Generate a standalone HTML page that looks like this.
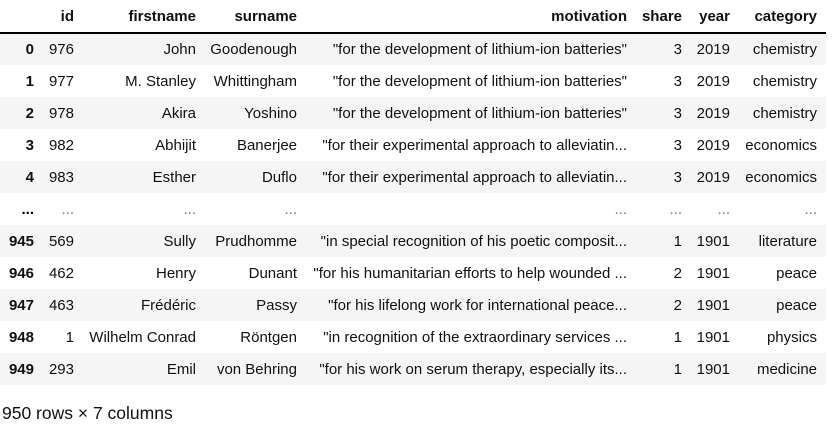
<!DOCTYPE html>
<html><head><meta charset="utf-8"><style>
html,body{margin:0;padding:0;width:837px;height:429px;overflow:hidden;background:#fff;font-family:"Liberation Sans",Arial,sans-serif;color:#111;}
table{position:absolute;left:0;top:0;border-collapse:collapse;font-size:15px;table-layout:fixed;width:826px}
th,td{padding:0 9px 0 0;height:32px;text-align:right;white-space:nowrap;overflow:hidden;box-sizing:border-box}
thead th{font-weight:bold;height:33px;border-bottom:2px solid #000;vertical-align:middle}
tbody th{font-weight:bold}
tbody tr:nth-child(odd){background:#f5f5f5}
.foot{position:absolute;left:2px;top:403px;font-size:17.5px;color:#111}
.dots td,.dots th{color:#777}
</style></head><body>
<table>
<colgroup><col style="width:43px"><col style="width:40px"><col style="width:122px"><col style="width:101px"><col style="width:330px"><col style="width:55px"><col style="width:48px"><col style="width:87px"></colgroup>
<thead><tr>
<th></th><th>id</th><th>firstname</th><th>surname</th><th>motivation</th><th>share</th><th>year</th><th>category</th></tr></thead>
<tbody>
<tr><th>0</th><td>976</td><td>John</td><td>Goodenough</td><td>"for the development of lithium-ion batteries"</td><td>3</td><td>2019</td><td>chemistry</td></tr>
<tr><th>1</th><td>977</td><td>M. Stanley</td><td>Whittingham</td><td>"for the development of lithium-ion batteries"</td><td>3</td><td>2019</td><td>chemistry</td></tr>
<tr><th>2</th><td>978</td><td>Akira</td><td>Yoshino</td><td>"for the development of lithium-ion batteries"</td><td>3</td><td>2019</td><td>chemistry</td></tr>
<tr><th>3</th><td>982</td><td>Abhijit</td><td>Banerjee</td><td>"for their experimental approach to alleviatin...</td><td>3</td><td>2019</td><td>economics</td></tr>
<tr><th>4</th><td>983</td><td>Esther</td><td>Duflo</td><td>"for their experimental approach to alleviatin...</td><td>3</td><td>2019</td><td>economics</td></tr>
<tr class="dots" style="background:#fff"><th style="color:#000">...</th><td>...</td><td>...</td><td>...</td><td>...</td><td>...</td><td>...</td><td>...</td></tr>
<tr style="background:#f5f5f5"><th>945</th><td>569</td><td>Sully</td><td>Prudhomme</td><td>"in special recognition of his poetic composit...</td><td>1</td><td>1901</td><td>literature</td></tr>
<tr style="background:#fff"><th>946</th><td>462</td><td>Henry</td><td>Dunant</td><td>"for his humanitarian efforts to help wounded ...</td><td>2</td><td>1901</td><td>peace</td></tr>
<tr style="background:#f5f5f5"><th>947</th><td>463</td><td>Frédéric</td><td>Passy</td><td>"for his lifelong work for international peace...</td><td>2</td><td>1901</td><td>peace</td></tr>
<tr style="background:#fff"><th>948</th><td>1</td><td>Wilhelm Conrad</td><td>Röntgen</td><td>"in recognition of the extraordinary services ...</td><td>1</td><td>1901</td><td>physics</td></tr>
<tr style="background:#f5f5f5"><th>949</th><td>293</td><td>Emil</td><td>von Behring</td><td>"for his work on serum therapy, especially its...</td><td>1</td><td>1901</td><td>medicine</td></tr>
</tbody></table>
<div class="foot">950 rows × 7 columns</div>
</body></html>
